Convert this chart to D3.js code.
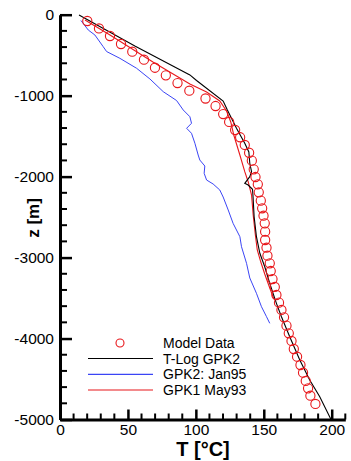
<!DOCTYPE html>
<meta charset="utf-8">
<style>
body { margin: 0; background: #fff; }
svg text { font-family: "Liberation Sans", Arial, Helvetica, sans-serif; }
</style>
<svg width="351" height="461"></svg>
<script src="https://d3js.org/d3.v7.min.js"></script>
<script>

// model data circles: temperature [°C] and depth z [m]
var modelT = [20.1, 28.7, 36.8, 44.9, 53.2, 61.8, 69.9, 77.9, 86.5, 95.2,
  107.1, 114.5, 120.1, 124.5, 128.9, 132.6, 136.0, 139.2, 141.2, 142.6,
  143.9, 145.6, 146.3, 147.8, 148.8, 149.8, 150.7, 151.0, 151.0, 152.0,
  152.7, 154.4, 155.1, 156.4, 158.1, 159.3, 161.2, 163.0, 164.9, 166.7,
  168.4, 170.4, 172.1, 174.5, 177.0, 178.9, 180.9, 182.6, 184.3, 188.0]
var modelZ = [-78, -170, -263, -362, -457, -556, -655, -749, -844, -939,
  -1035, -1128, -1227, -1325, -1424, -1514, -1609, -1705, -1803, -1910,
  -2005, -2095, -2194, -2297, -2391, -2483, -2577, -2680, -2783, -2878,
  -2977, -3071, -3166, -3265, -3363, -3462, -3557, -3647, -3738, -3841,
  -3935, -4030, -4129, -4224, -4327, -4422, -4524, -4615, -4706, -4808]

// T-Log GPK2
var tlogT = [14.0, 55.1, 95.6, 100.5, 120.1, 123.2, 129.9, 136.0, 139.0, 139.7,
  141.0, 139.7, 136.0, 138.5, 141.7, 142.1, 142.9, 144.6, 147.1, 150.7,
  154.4, 159.3, 163.0, 169.1, 176.5, 183.8, 191.2, 199.3]
var tlogZ = [-4, -387, -744, -813, -1066, -1177, -1403, -1588, -1696, -1835,
  -1939, -2001, -2083, -2104, -2157, -2248, -2495, -2742, -2947, -3113,
  -3318, -3565, -3730, -3977, -4265, -4512, -4718, -4994]

// GPK2: Jan95
var janT = [15.4, 20.8, 25.7, 31.8, 34.3, 44.1, 56.4, 66.2, 76.0, 85.8,
  90.7, 95.6, 96.8, 93.2, 96.8, 99.3, 101.7, 102.9, 106.6, 106.1,
  107.9, 112.7, 117.6, 120.1, 123.8, 127.4, 132.4, 133.6, 137.3, 139.7,
  144.6, 148.3, 152.0, 154.4]
var janZ = [-72, -189, -251, -395, -455, -539, -662, -794, -951, -1060,
  -1177, -1260, -1341, -1403, -1465, -1588, -1733, -1795, -1869, -1959,
  -2042, -2091, -2165, -2252, -2412, -2577, -2742, -2866, -3071, -3252,
  -3441, -3607, -3730, -3812]

// GPK1 May93
var mayT = [18.4, 36.8, 68.4, 95.6, 107.9, 117.6, 122.6, 125.7, 127.9, 132.4,
  136.0, 138.5, 141.0, 142.2, 143.8, 145.2, 147.8, 150.7, 154.4, 157.4]
var mayZ = [-65, -251, -584, -856, -955, -1066, -1189, -1325, -1486, -1733,
  -1939, -2063, -2227, -2474, -2721, -2906, -3055, -3203, -3376, -3512]

var xMajor = [0, 50, 100, 150, 200]
var yMajor = [0, -1000, -2000, -3000, -4000, -5000]
var legendNames = ["Model Data", "T-Log GPK2", "GPK2: Jan95", "GPK1 May93"]

function zip(a, b) {
  var out = []
  for (var i = 0; i < a.length; i++) out.push([a[i], b[i]])
  return out
}

var svg = d3.select("svg")
var x = d3.scaleLinear().domain([0, 210]).range([60, 345.3])
var y = d3.scaleLinear().domain([0, -5000]).range([14.7, 419.5])

var red = "#e8171b", blue = "#3b45f5"

// minor ticks
var xMinor = d3.range(10, 211, 10).filter(function(d) { return d % 50 != 0 })
var yMinor = d3.range(-200, -5000, -200).filter(function(d) { return d % 1000 != 0 })

svg.append("g").selectAll("line").data(xMinor).enter().append("line")
  .attr("x1", function(d) { return x(d) }).attr("x2", function(d) { return x(d) })
  .attr("y1", y(-5000)).attr("y2", y(-5000) - 6)
  .attr("stroke", "#000").attr("stroke-width", 2)
svg.append("g").selectAll("line").data(yMinor).enter().append("line")
  .attr("y1", function(d) { return y(d) }).attr("y2", function(d) { return y(d) })
  .attr("x1", x(0)).attr("x2", x(0) + 7)
  .attr("stroke", "#000").attr("stroke-width", 2)

// major axes
var plain = function(d) { return String(d) }
var xAxis = svg.append("g").attr("transform", "translate(0," + y(-5000) + ")")
  .call(d3.axisBottom(x).tickValues(xMajor).tickFormat(plain)
    .tickSize(-10).tickSizeOuter(0).tickPadding(4))
var yAxis = svg.append("g").attr("transform", "translate(" + x(0) + ",0)")
  .call(d3.axisLeft(y).tickValues(yMajor).tickFormat(plain)
    .tickSize(-12).tickSizeOuter(0).tickPadding(6))

;[xAxis, yAxis].forEach(function(a) {
  a.select(".domain").attr("stroke-width", 3)
  a.selectAll(".tick line").attr("stroke-width", 2.5)
  a.selectAll(".tick text").attr("font-size", 15.5).attr("fill", "#000")
    .style("font-family", '"Liberation Sans", Arial, sans-serif')
})
xAxis.selectAll(".tick text").attr("dy", "0.74em")

// axis titles
svg.append("text")
  .attr("x", 203).attr("y", 456)
  .attr("text-anchor", "middle")
  .style("font-size", "20px").style("font-weight", "bold")
  .text("T [°C]")
svg.append("text")
  .attr("transform", "translate(39,218)rotate(-90)")
  .attr("text-anchor", "middle")
  .style("font-size", "17px").style("font-weight", "bold")
  .text("z [m]")

var line = d3.line()
  .x(function(d) { return x(d[0]) })
  .y(function(d) { return y(d[1]) })

svg.append("path").datum(zip(janT, janZ))
  .attr("fill", "none").attr("stroke", blue).attr("stroke-width", 1).attr("d", line)
svg.append("path").datum(zip(mayT, mayZ))
  .attr("fill", "none").attr("stroke", red).attr("stroke-width", 1.1).attr("d", line)
svg.append("path").datum(zip(tlogT, tlogZ))
  .attr("fill", "none").attr("stroke", "#000").attr("stroke-width", 1.1).attr("d", line)

svg.append("g").selectAll("circle").data(zip(modelT, modelZ)).enter().append("circle")
  .attr("cx", function(d) { return x(d[0]) })
  .attr("cy", function(d) { return y(d[1]) })
  .attr("r", 4.6)
  .attr("fill", "none").attr("stroke", red).attr("stroke-width", 1.1)

// legend
var legY = [343, 358.5, 374.3, 390]
var legColors = [red, "#000", blue, red]
var leg = svg.append("g")
leg.append("circle").attr("cx", 120).attr("cy", legY[0]).attr("r", 4)
  .attr("fill", "none").attr("stroke", red).attr("stroke-width", 1.1)
for (var i = 1; i < 4; i++) {
  leg.append("line").attr("x1", 88).attr("x2", 153)
    .attr("y1", legY[i]).attr("y2", legY[i])
    .attr("stroke", legColors[i]).attr("stroke-width", 1.2)
}
leg.selectAll("text").data(legendNames).enter().append("text")
  .attr("x", 163).attr("y", function(d, i) { return legY[i] })
  .attr("dy", "0.36em")
  .style("font-size", "14px")
  .text(function(d) { return d })

</script>
